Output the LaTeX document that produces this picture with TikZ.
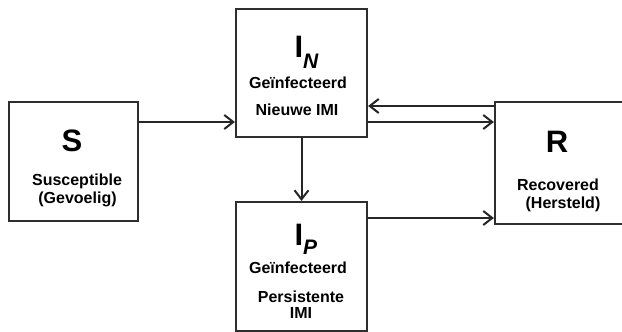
\documentclass[tikz,border=0pt]{standalone}
\usepackage{fontspec}
\setmainfont{Liberation Sans}
\usetikzlibrary{arrows.meta}

\begin{document}
\begin{tikzpicture}[x=1pt,y=-1pt,
    box/.style={draw=black!82,line width=2.2pt,inner sep=0pt},
    flow/.style={draw=black!85,line width=2pt,-{Straight Barb[length=9pt,width=14pt,line width=2pt]}},
    letter/.style={anchor=base,font=\bfseries\fontsize{31}{31}\selectfont},
    label/.style={anchor=base,font=\bfseries\fontsize{16}{16}\selectfont}]
    \useasboundingbox (0,0) rectangle (622,332);
    \clip (0,0) rectangle (622,332);

    % the four compartments
    \node[box,minimum width=129pt,minimum height=119pt] (S) at (73.5,161.5) {};
    \node[box,minimum width=131pt,minimum height=128pt] (IN) at (301.5,73) {};
    \node[box,minimum width=131pt,minimum height=129pt] (IP) at (301.5,266.5) {};
    \node[box,minimum width=134pt,minimum height=122pt] (R) at (562,163) {};

    % S
    \node[letter] (Sletter) at (72,151) {S};
    \node[label] (Sname) at (77,185) {Susceptible};
    \node[label] (Snl) at (77.5,203) {(Gevoelig)};

    % I_N
    \node[letter,anchor=base west] (INletter) at (291,57) {I\raisebox{-11pt}{\fontsize{21}{21}\selectfont\itshape N}};
    \node[label] (INname) at (298,88) {Geïnfecteerd};
    \node[label] (INtype) at (297,115) {Nieuwe IMI};

    % I_P
    \node[letter,anchor=base west] (IPletter) at (291,245) {I\raisebox{-9pt}{\fontsize{21}{21}\selectfont\itshape P}};
    \node[label] (IPname) at (298,273) {Geïnfecteerd};
    \node[label] (IPtype) at (301,302) {Persistente};
    \node[label] (IPimi) at (301,318) {IMI};

    % R
    \node[letter] (Rletter) at (557,152) {R};
    \node[label] (Rname) at (558,190) {Recovered};
    \node[label] (Rnl) at (563,208) {(Hersteld)};

    % transitions
    \draw[flow] (S.east |- 0,122) -- (IN.west |- 0,122);
    \draw[flow] (IN.east |- 0,122) -- (R.west |- 0,122);
    \draw[flow] (R.west |- 0,106) -- (IN.east |- 0,106);
    \draw[flow] (IN.south) -- (IP.north);
    \draw[flow] (IP.east |- 0,218) -- (R.west |- 0,218);
\end{tikzpicture}
\end{document}
